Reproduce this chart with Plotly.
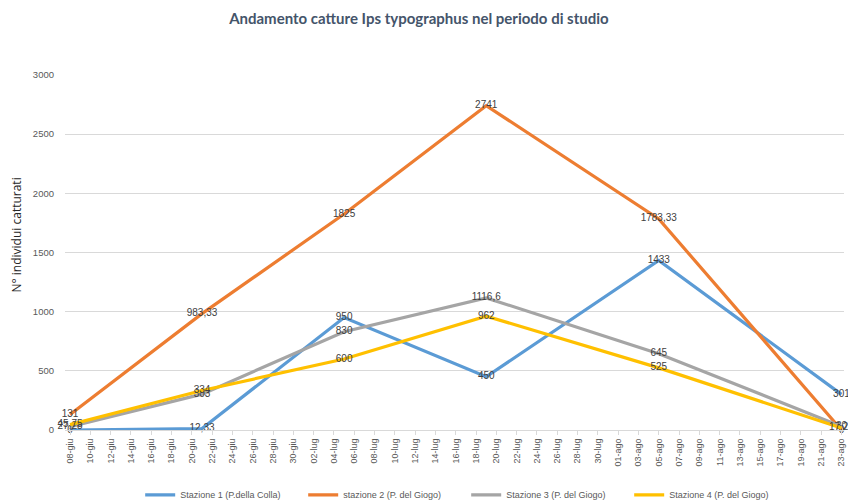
import plotly.graph_objects as go
import pandas as pd

dates = ["2023-06-08", "2023-06-21", "2023-07-05", "2023-07-19", "2023-08-05", "2023-08-23"]
series_names = ["Stazione 1 (P.della Colla)", "stazione 2 (P. del Giogo)",
                "Stazione 3 (P. del Giogo)", "Stazione 4 (P. del Giogo)"]
stazione1 = [0, 12.33, 950, 450, 1433, 301]
stazione2 = [131, 983.33, 1825, 2741, 1783.33, 0]
stazione3 = [27.28, 303, 830, 1116.6, 645, 30]
stazione4 = [45.75, 334, 600, 962, 525, 17.25]
colors = ["#5B9BD5", "#ED7D31", "#A5A5A5", "#FFC000"]

mesi = {6: "giu", 7: "lug", 8: "ago"}
tick_dates = pd.date_range("2023-06-08", "2023-08-23", freq="2D")
tick_text = [f"{d.day:02d}-{mesi[d.month]}" for d in tick_dates]

def fmt(v):
    return f"{v:g}".replace(".", ",")

fig = go.Figure()
for name, vals, col in zip(series_names, [stazione1, stazione2, stazione3, stazione4], colors):
    fig.add_trace(go.Scatter(
        x=dates, y=vals, mode="lines+text", name=name,
        line=dict(color=col, width=3.2),
        text=[fmt(v) for v in vals], textposition="middle center",
        textfont=dict(family="Liberation Sans", size=10, color="#404040"),
        cliponaxis=False,
    ))

fig.update_layout(
    width=848, height=504,
    margin=dict(l=65, r=4, t=75, b=74, autoexpand=False),
    paper_bgcolor="white", plot_bgcolor="white",
    title=dict(text="Andamento catture Ips typographus nel periodo di studio",
               x=0.494, xanchor="center", y=0.963, yanchor="middle",
               font=dict(family="Lato", size=15, color="#44546A", weight="bold")),
    font=dict(family="Liberation Sans", color="#595959"),
    showlegend=True,
    legend=dict(orientation="h", x=0.515, xanchor="center", y=-0.183, yanchor="middle",
                font=dict(size=9, color="#595959"), itemwidth=30, tracegroupgap=0,
                entrywidth=118),
    xaxis=dict(type="date", range=["2023-06-07 12:00", "2023-08-23 06:00"],
               tickvals=list(tick_dates), ticktext=tick_text, tickangle=-90,
               tickfont=dict(size=9, color="#595959"), automargin=False,
               showgrid=False, showline=True, linecolor="#D9D9D9", linewidth=1,
               ticks="outside", ticklen=4, tickcolor="#D9D9D9", zeroline=False),
    yaxis=dict(range=[0, 3000], dtick=500, tickfont=dict(size=9.5, color="#595959"),
               showgrid=True, gridcolor="#D9D9D9", gridwidth=1, zeroline=False,
               ticks="", ticklabelstandoff=10, automargin=False),
)
fig.add_annotation(text="N° individui catturati", xref="paper", yref="paper",
                   x=-0.062, y=0.55, textangle=-90, showarrow=False,
                   xanchor="center", yanchor="middle",
                   font=dict(family="Open Sans", size=12, color="#262626"))

fig.write_html("out.html", config={"displayModeBar": False},
               post_script="document.body.style.margin='0';")
